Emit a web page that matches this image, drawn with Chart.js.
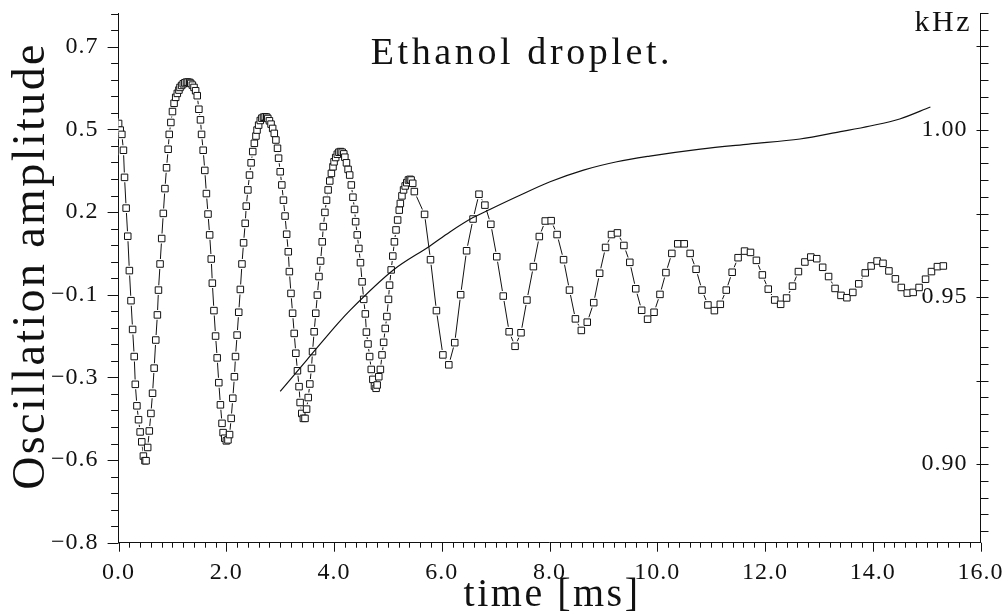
<!DOCTYPE html>
<html>
<head>
<meta charset="utf-8">
<title>Ethanol droplet</title>
<script src="https://cdn.jsdelivr.net/npm/chart.js@4.4.1/dist/chart.umd.min.js"></script>
<style>
  html, body { margin: 0; padding: 0; background: #fff; }
  #wrap { width: 1002px; height: 612px; position: relative; }
</style>
</head>
<body>
<div id="wrap"><canvas id="chart"></canvas></div>
<script>
// ---- data ----
// densely sampled part (first ~5.5 ms)
const denseTime = [
  0.00, 0.03, 0.06, 0.09, 0.11, 0.14, 0.17, 0.20, 0.23, 0.26,
  0.29, 0.31, 0.34, 0.37, 0.40, 0.43, 0.46, 0.49, 0.51, 0.54,
  0.57, 0.60, 0.63, 0.66, 0.69, 0.72, 0.74, 0.77, 0.80, 0.83,
  0.86, 0.89, 0.92, 0.94, 0.97, 1.00, 1.03, 1.06, 1.09, 1.12,
  1.14, 1.17, 1.20, 1.23, 1.26, 1.29, 1.32, 1.34, 1.37, 1.40,
  1.43, 1.46, 1.49, 1.52, 1.54, 1.57, 1.60, 1.63, 1.66, 1.69,
  1.72, 1.74, 1.77, 1.80, 1.83, 1.86, 1.89, 1.92, 1.94, 1.97,
  2.00, 2.03, 2.06, 2.09, 2.12, 2.15, 2.17, 2.20, 2.23, 2.26,
  2.29, 2.32, 2.35, 2.37, 2.40, 2.43, 2.46, 2.49, 2.52, 2.55,
  2.57, 2.60, 2.63, 2.66, 2.69, 2.72, 2.75, 2.77, 2.80, 2.83,
  2.86, 2.89, 2.92, 2.95, 2.97, 3.00, 3.03, 3.06, 3.09, 3.12,
  3.15, 3.17, 3.20, 3.23, 3.26, 3.29, 3.32, 3.35, 3.37, 3.40,
  3.43, 3.46, 3.49, 3.52, 3.55, 3.58, 3.60, 3.63, 3.66, 3.69,
  3.72, 3.75, 3.78, 3.80, 3.83, 3.86, 3.89, 3.92, 3.95, 3.98,
  4.00, 4.03, 4.06, 4.09, 4.12, 4.15, 4.18, 4.20, 4.23, 4.26,
  4.29, 4.32, 4.35, 4.38, 4.40, 4.43, 4.46, 4.49, 4.52, 4.55,
  4.58, 4.60, 4.63, 4.66, 4.69, 4.72, 4.75, 4.78, 4.80, 4.83,
  4.86, 4.89, 4.92, 4.95, 4.98, 5.01, 5.03, 5.06, 5.09, 5.12,
  5.15, 5.18, 5.21, 5.23, 5.26, 5.29, 5.32, 5.35, 5.38, 5.41,
  5.43, 5.46, 5.49
];
const denseAmp = [
  0.468, 0.448, 0.435, 0.387, 0.305, 0.212, 0.127, 0.023, -0.068, -0.155,
  -0.237, -0.321, -0.386, -0.428, -0.465, -0.495, -0.538, -0.552, -0.552, -0.512,
  -0.462, -0.409, -0.348, -0.272, -0.187, -0.111, -0.036, 0.043, 0.120, 0.196,
  0.271, 0.334, 0.390, 0.435, 0.471, 0.504, 0.529, 0.547, 0.559, 0.569,
  0.577, 0.583, 0.588, 0.591, 0.593, 0.593, 0.592, 0.589, 0.584, 0.577, 0.567,
  0.552, 0.511, 0.479, 0.435, 0.387, 0.326, 0.256, 0.194, 0.131, 0.058,
  -0.015, -0.098, -0.175, -0.241, -0.316, -0.383, -0.439, -0.467, -0.484, -0.492,
  -0.489, -0.473, -0.424, -0.363, -0.298, -0.237, -0.172, -0.103, -0.034, 0.043,
  0.107, 0.166, 0.218, 0.267, 0.312, 0.349, 0.383, 0.408, 0.430, 0.448,
  0.463, 0.477, 0.484,
  0.487, 0.488, 0.487, 0.483, 0.476, 0.466, 0.453,
  0.438, 0.418, 0.393, 0.363, 0.322, 0.282, 0.236, 0.188, 0.133, 0.080,
  0.020, -0.046, -0.106, -0.167, -0.227, -0.280, -0.328, -0.376, -0.409, -0.424,
  -0.424, -0.396, -0.361, -0.320, -0.273, -0.222, -0.162, -0.106, -0.051, 0.005,
  0.052, 0.110, 0.156, 0.199, 0.236, 0.267, 0.294, 0.317, 0.337, 0.352,
  0.365, 0.375, 0.381, 0.383, 0.381, 0.376, 0.366,
  0.349, 0.329, 0.312, 0.282, 0.245, 0.208, 0.171, 0.131, 0.090, 0.047,
  -0.011, -0.064, -0.108, -0.163, -0.199, -0.237, -0.276, -0.306, -0.326, -0.333,
  -0.323, -0.298, -0.276, -0.232, -0.194, -0.152, -0.116, -0.064, -0.021, 0.025,
  0.067, 0.110, 0.146, 0.176, 0.206, 0.226, 0.249, 0.267, 0.279, 0.289,
  0.297, 0.299, 0.297, 0.287, 0.262
];
// sparsely sampled part
const sparseTime = [
  5.68, 5.79, 5.90, 6.02, 6.13, 6.24, 6.35, 6.46, 6.58, 6.69,
  6.80, 6.91, 7.02, 7.14, 7.25, 7.36, 7.47, 7.58, 7.70, 7.81,
  7.92, 8.03, 8.14, 8.26, 8.37, 8.48, 8.59, 8.70, 8.82, 8.93,
  9.04, 9.15, 9.26, 9.38, 9.49, 9.60, 9.71, 9.82, 9.94, 10.05,
  10.16, 10.27, 10.38, 10.50, 10.61, 10.72, 10.83, 10.94, 11.06, 11.17,
  11.28, 11.39, 11.50, 11.62, 11.73, 11.84, 11.95, 12.06, 12.18, 12.29,
  12.40, 12.51, 12.62, 12.74, 12.85, 12.96, 13.07, 13.18, 13.30, 13.41,
  13.52, 13.63, 13.74, 13.86, 13.97, 14.08, 14.19, 14.30, 14.42, 14.53,
  14.64, 14.75, 14.86, 14.98, 15.09, 15.20, 15.31
];
const sparseAmp = [
  0.193, 0.056, -0.098, -0.232, -0.262, -0.195, -0.050, 0.083, 0.179, 0.254,
  0.221, 0.163, 0.065, -0.054, -0.162, -0.206, -0.165, -0.066, 0.035, 0.126,
  0.173, 0.174, 0.132, 0.056, -0.036, -0.123, -0.158, -0.133, -0.074, 0.015,
  0.093, 0.132, 0.137, 0.099, 0.048, -0.032, -0.097, -0.124, -0.103, -0.049,
  0.017, 0.075, 0.104, 0.104, 0.075, 0.027, -0.036, -0.081, -0.098, -0.079,
  -0.036, 0.018, 0.062, 0.082, 0.078, 0.054, 0.010, -0.033, -0.066, -0.079,
  -0.060, -0.024, 0.020, 0.049, 0.064, 0.059, 0.033, 0.005, -0.031, -0.052,
  -0.059, -0.043, -0.017, 0.016, 0.037, 0.052, 0.045, 0.022, -0.002, -0.028,
  -0.045, -0.043, -0.028, -0.003, 0.020, 0.035, 0.037
];
// oscillation frequency (right axis, kHz)
const freqTime = [3.00, 3.50, 4.08, 4.30, 5.10, 5.78, 6.15, 6.58, 6.89, 7.39, 8.01,
                  8.63, 9.25, 9.86, 10.80, 11.70, 12.65, 13.40, 13.95, 14.50, 15.07];
const freqKHz  = [0.9218, 0.9313, 0.9423, 0.9461, 0.9581, 0.9653, 0.9695, 0.9738, 0.9762, 0.9800, 0.9845,
                  0.9880, 0.9905, 0.9922, 0.9943, 0.9958, 0.9973, 0.9995, 1.0012, 1.0033, 1.0069];

// ---- axes ----
const xTickValues = [0, 2, 4, 6, 8, 10, 12, 14, 16];
const xTickLabels = ['0.0', '2.0', '4.0', '6.0', '8.0', '10.0', '12.0', '14.0', '16.0'];
const yTickValues = [-0.8, -0.55, -0.3, -0.05, 0.2, 0.45, 0.7];
const yTickLabels = ['\u22120.8', '\u22120.6', '\u22120.3', '\u22120.1', '0.2', '0.5', '0.7'];
const kHzTickValues = [0.90, 0.95, 1.00];
const kHzTickLabels = ['0.90', '0.95', '1.00'];

const INK = '#111';
const FONT = '"Liberation Serif", "DejaVu Serif", serif';

const pair = (xs, ys) => xs.slice(0, Math.min(xs.length, ys.length)).map((t, i) => ({ x: t, y: ys[i] }));
const ampPoints  = pair(denseTime, denseAmp).concat(pair(sparseTime, sparseAmp));
const freqPoints = pair(freqTime, freqKHz);

const setTicks = values => scale => { scale.ticks = values.map(v => ({ value: v })); };
// fixed box sizes, no extra room for overhanging labels
const fixBox = (w, h) => s => {
  if (w != null) s.width = w;
  if (h != null) s.height = h;
  s.paddingTop = 0; s.paddingBottom = 0; s.paddingLeft = 0; s.paddingRight = 0;
};

// tick marks and the free-standing texts
const framePlugin = {
  id: 'frame',
  beforeDraw(chart) {
    chart.ctx.letterSpacing = '1px';
  },
  afterDraw(chart) {
    const { ctx, chartArea: a, scales: { x, y, y2 } } = chart;
    ctx.save();
    ctx.strokeStyle = INK;
    ctx.lineWidth = 1;
    ctx.beginPath();
    const h = (px, py, len) => { const yy = Math.round(py) + 0.5; ctx.moveTo(px, yy); ctx.lineTo(px + len, yy); };
    const v = (px, py, len) => { const xx = Math.round(px) + 0.5; ctx.moveTo(xx, py); ctx.lineTo(xx, py + len); };
    // left axis: minor every 0.05, major every 0.25, pointing out
    for (let k = 0; k <= 32; k++) {
      h(a.left, y.getPixelForValue(-0.8 + k * 0.05), k % 5 === 0 ? -11 : -7.5);
    }
    // bottom axis: minor every 0.2 ms, major every 2 ms, pointing down
    for (let k = 0; k <= 80; k++) {
      v(x.getPixelForValue(k * 0.2), a.bottom, k % 10 === 0 ? 9 : 5);
    }
    // right axis (kHz): minor every 0.005, pointing out
    for (let k = 880; k <= 1035; k += 5) {
      const py = y2.getPixelForValue(k / 1000);
      if (k % 25 === 0) h(a.right - 4, py, 12); else h(a.right, py, 8);
    }
    ctx.stroke();
    ctx.restore();

    const text = (s, px, py, size, spacing, align) => {
      ctx.font = `${size}px ${FONT}`;
      ctx.letterSpacing = `${spacing}px`;
      ctx.textAlign = align;
      ctx.textBaseline = 'alphabetic';
      ctx.fillText(s, px, py);
    };
    ctx.save();
    ctx.fillStyle = INK;
    text('Ethanol droplet.', 522, 64, 38, 3.6, 'center');
    text('time [ms]', 552, 606, 40, 2.5, 'center');
    text('kHz', 972, 31, 30, 2.5, 'right');
    ctx.translate(44, 266);
    ctx.rotate(-Math.PI / 2);
    text('Oscillation amplitude', 0, 0, 46, 2.4, 'center');
    ctx.restore();
  }
};

const tickFont = { family: FONT, size: 24 };
const squareStyle = { pointStyle: 'rect', showLine: false };

new Chart(document.getElementById('chart'), {
  type: 'scatter',
  data: {
    datasets: [
      {
        label: 'Frequency',
        yAxisID: 'y2',
        data: freqPoints,
        order: 0,
        showLine: true,
        borderColor: INK,
        borderWidth: 1.2,
        pointRadius: 0,
        cubicInterpolationMode: 'monotone'
      },
      {
        label: 'Oscillation amplitude',
        yAxisID: 'y',
        data: ampPoints,
        order: 1,
        ...squareStyle,
        pointRadius: 4.6,
        pointBorderWidth: 1,
        pointBorderColor: INK,
        pointBackgroundColor: '#fff'
      },
      {
        label: 'gap',
        yAxisID: 'y',
        data: ampPoints,
        order: 2,
        ...squareStyle,
        pointRadius: 7,
        pointBorderWidth: 0,
        pointBorderColor: '#fff',
        pointBackgroundColor: '#fff'
      },
      {
        label: 'trace',
        yAxisID: 'y',
        data: ampPoints,
        order: 3,
        showLine: true,
        borderColor: INK,
        borderWidth: 1,
        tension: 0,
        pointRadius: 0
      }
    ]
  },
  options: {
    responsive: true,
    maintainAspectRatio: false,
    animation: false,
    devicePixelRatio: 1,
    events: [],
    layout: { padding: { top: 13.7, left: 0, right: 0, bottom: 0 } },
    plugins: { legend: { display: false }, tooltip: { enabled: false } },
    scales: {
      x: {
        type: 'linear',
        min: 0, max: 16,
        afterBuildTicks: setTicks(xTickValues),
        afterFit: fixBox(null, 69.3),
        grid: { display: false, drawTicks: false },
        border: { display: true, color: INK, width: 1 },
        ticks: {
          padding: 16, color: INK, font: tickFont, maxRotation: 0, autoSkip: false,
          callback: (val, i) => xTickLabels[i]
        }
      },
      y: {
        type: 'linear',
        position: 'left',
        min: -0.8, max: 0.8,
        afterBuildTicks: setTicks(yTickValues),
        afterFit: fixBox(118.6, null),
        grid: { display: false, drawTicks: false },
        border: { display: true, color: INK, width: 1 },
        ticks: {
          padding: 20, color: INK, font: tickFont, autoSkip: false,
          callback: (val, i) => yTickLabels[i]
        }
      },
      y2: {
        type: 'linear',
        position: 'right',
        min: 0.8765, max: 1.0348,
        afterBuildTicks: setTicks(kHzTickValues),
        afterFit: fixBox(21.5, null),
        grid: { display: false, drawTicks: false },
        border: { display: true, color: INK, width: 1 },
        ticks: {
          mirror: true, padding: -13, color: INK, font: tickFont, autoSkip: false,
          callback: (val, i) => kHzTickLabels[i]
        }
      }
    }
  },
  plugins: [framePlugin]
});
</script>
</body>
</html>
